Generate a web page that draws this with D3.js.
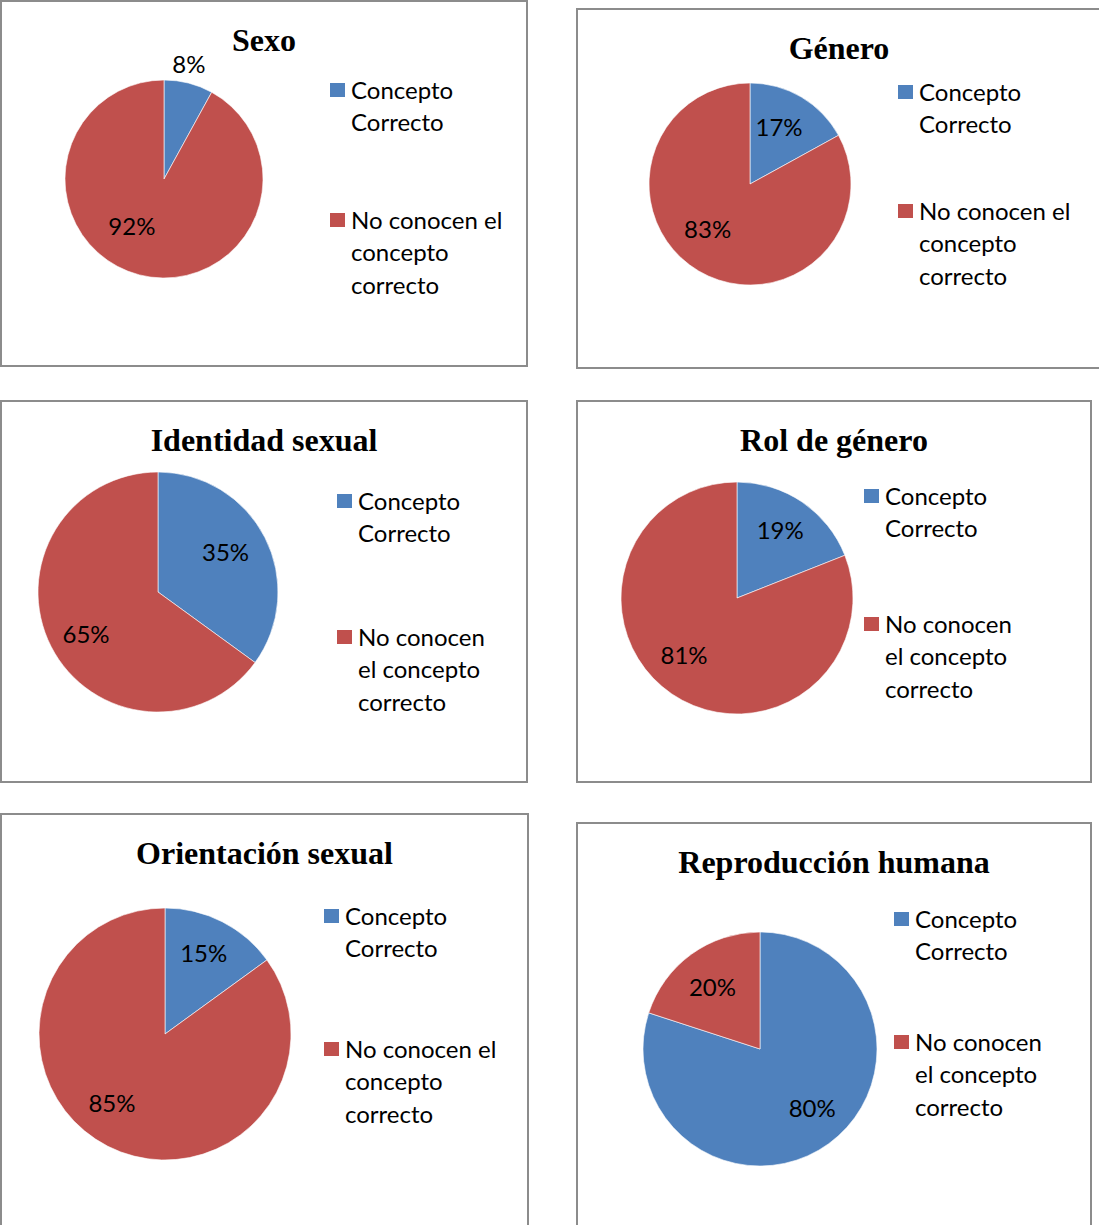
<!DOCTYPE html>
<html>
<head>
<meta charset="utf-8">
<script src="https://cdn.jsdelivr.net/npm/d3@7"></script>
<style>
  body { margin: 0; background: #fff; }
  svg { display: block; }
</style>
</head>
<body>
<div id="chart"></div>
<script>
// Data
var titles = ["Sexo", "Género", "Identidad sexual", "Rol de género", "Orientación sexual", "Reproducción humana"];
var categories = ["Concepto Correcto", "No conocen el concepto correcto"];
var correcto = [8, 17, 35, 19, 15, 80];
var noConocen = [92, 83, 65, 81, 85, 20];

var colors = ["#4F81BD", "#C0504D"];

// layout of each panel: frame, pie centre/radius, legend anchor, wrap width,
// label radius factor and angle nudge (deg) per slice (excel "best fit")
var panels = [
  {box: [1, 1, 526, 365],     cx: 164, cy: 179,  r: 99,  lx: 330, ly: [90, 220],   wrap: 165, lr: [1.17, 0.59], la: [-2, 19]},
  {box: [577, 9, 524, 359],   cx: 750, cy: 184,  r: 101, lx: 898, ly: [92, 211],   wrap: 165, lr: [0.62, 0.62], la: [-3, 12]},
  {box: [1, 401, 526, 381],   cx: 158, cy: 592,  r: 120, lx: 337, ly: [501, 637],  wrap: 140, lr: [0.65, 0.70], la: [-3, -4]},
  {box: [577, 401, 514, 381], cx: 737, cy: 598,  r: 116, lx: 864, ly: [496, 624],  wrap: 140, lr: [0.68, 0.68], la: [-1, 8]},
  {box: [1, 814, 527, 430],   cx: 165, cy: 1034, r: 126, lx: 324, ly: [916, 1049], wrap: 165, lr: [0.70, 0.70], la: [-1, 10]},
  {box: [577, 823, 514, 420], cx: 760, cy: 1049, r: 117, lx: 894, ly: [919, 1042], wrap: 140, lr: [0.68, 0.66], la: [-5, -2]}
];

var W = 1099, H = 1225;
var svg = d3.select("#chart").append("svg")
  .attr("width", W)
  .attr("height", H);

var pie = d3.pie().sort(null).value(function(d){ return d.value; });

function wrapWords(textSel, words, width, lineH) {
  var lines = [], cur = [];
  var probe = textSel.append("tspan");
  words.forEach(function(w){
    var test = cur.concat([w]).join(" ");
    probe.text(test);
    if (probe.node().getComputedTextLength() > width && cur.length) {
      lines.push(cur.join(" "));
      cur = [w];
    } else {
      cur.push(w);
    }
  });
  if (cur.length) lines.push(cur.join(" "));
  probe.remove();
  lines.forEach(function(l, i){
    textSel.append("tspan")
      .attr("x", textSel.attr("x"))
      .attr("dy", i === 0 ? 0 : lineH)
      .text(l);
  });
}

panels.forEach(function(p, k){
  var g = svg.append("g");

  // frame
  g.append("rect")
    .attr("x", p.box[0]).attr("y", p.box[1])
    .attr("width", p.box[2]).attr("height", p.box[3])
    .attr("fill", "none")
    .attr("stroke", "#8c8c8c")
    .attr("stroke-width", 2);

  // title
  g.append("text")
    .attr("x", p.box[0] + p.box[2] / 2)
    .attr("y", p.box[1] + 50)
    .attr("text-anchor", "middle")
    .style("font-family", "'Liberation Serif', 'Times New Roman', serif")
    .style("font-weight", "bold")
    .style("font-size", "32px")
    .text(titles[k]);

  var vals = [
    {name: categories[0], value: correcto[k]},
    {name: categories[1], value: noConocen[k]}
  ];
  var arcs = pie(vals);
  var arc = d3.arc().innerRadius(0).outerRadius(p.r);

  var pg = g.append("g").attr("transform", "translate(" + p.cx + "," + p.cy + ")");
  pg.selectAll("path")
    .data(arcs)
    .enter()
    .append("path")
    .attr("d", arc)
    .attr("fill", function(d, i){ return colors[i]; })
    .attr("stroke", "#fff")
    .attr("stroke-width", 0.6);

  pg.selectAll("text")
    .data(arcs)
    .enter()
    .append("text")
    .attr("transform", function(d, i){
      var a = (d.startAngle + d.endAngle) / 2 + p.la[i] * Math.PI / 180;
      var rr = p.r * p.lr[i];
      return "translate(" + (rr * Math.sin(a)) + "," + (-rr * Math.cos(a) - 2) + ")";
    })
    .attr("text-anchor", "middle")
    .attr("dominant-baseline", "central")
    .style("font-family", "Lato, 'Open Sans', sans-serif")
    .style("font-size", "24px")
    .attr("fill", "#000")
    .text(function(d){ return d.data.value + "%"; });

  // legend
  categories.forEach(function(c, i){
    g.append("rect")
      .attr("x", p.lx).attr("y", p.ly[i] - 7)
      .attr("width", 15).attr("height", 14)
      .attr("fill", colors[i]);
    var t = g.append("text")
      .attr("x", p.lx + 21)
      .attr("y", p.ly[i] - 1.5)
      .attr("dominant-baseline", "central")
      .style("font-family", "Lato, 'Open Sans', sans-serif")
      .style("font-size", "24px")
      .attr("fill", "#000");
    wrapWords(t, c.split(" "), p.wrap, 32.5);
  });
});
</script>
</body>
</html>
